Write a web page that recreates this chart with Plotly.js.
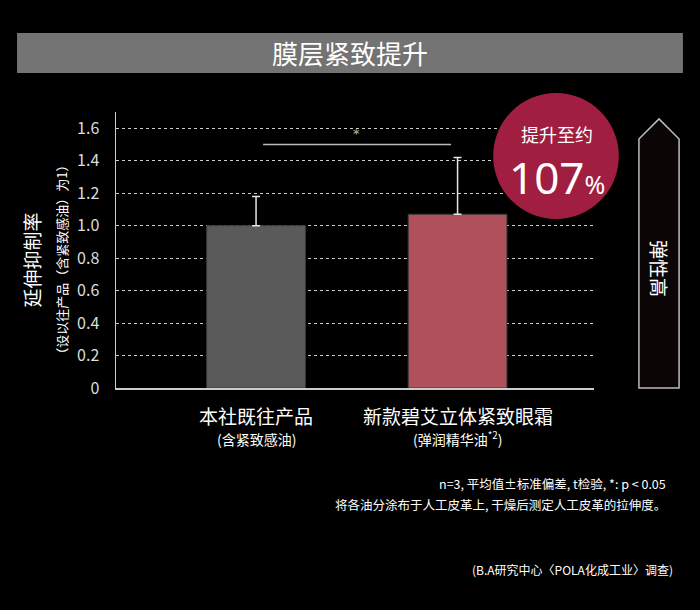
<!DOCTYPE html>
<html>
<head>
<meta charset="utf-8">
<script src="https://cdn.plot.ly/plotly-3.0.1.min.js"></script>
<style>
  html, body { margin: 0; padding: 0; background: #000; }
  #chart { width: 700px; height: 610px; }
</style>
</head>
<body>
<div id="chart"></div>
<script>
// data
let products = ["本社既往产品", "新款碧艾立体紧致眼霜"];
let product_notes = ["(含紧致感油)", "(弹润精华油<sup>*2</sup>)"];
let values = [1.00, 1.07];
let errors = [0.18, 0.35];
let bar_colors = ["#5a5a5a", "#b0505a"];
let tick_values = [0, 0.2, 0.4, 0.6, 0.8, 1.0, 1.2, 1.4, 1.6];
let tick_labels = ["0", "0.2", "0.4", "0.6", "0.8", "1.0", "1.2", "1.4", "1.6"];

let cjk = '"Noto Sans CJK SC", "Noto Sans", sans-serif';
let x_index = products.map(function (p, i) { return i; });

let bars = {
    type: 'bar',
    x: x_index,
    y: values,
    width: 0.49,
    marker: { color: bar_colors, line: { color: '#3a3a3a', width: 1 } },
    error_y: { type: 'data', array: errors, symmetric: false, arrayminus: [0, 0], color: '#e6e6e6', thickness: 1.5, width: 4 },
    hoverinfo: 'none',
    showlegend: false
};

function note(text, x, y, size, extra) {
    let a = { text: text, xref: 'paper', yref: 'paper', x: x, y: y, showarrow: false,
              xanchor: 'center', yanchor: 'middle',
              font: { family: cjk, size: size, color: '#ffffff' } };
    for (let k in extra) a[k] = extra[k];
    return a;
}

let annotations = [
    note('膜层紧致提升', 0.4895, 1.214, 26),
    note('延伸抑制率', -0.176, 0.465, 19, { textangle: -90 }),
    note('（设以往产品（含紧致感油）为1）', -0.113, 0.465, 13, { textangle: -90 }),
    note('*', 0.5, 1.57, 13, { xref: 'x', yref: 'y', font: { family: '"DejaVu Sans", sans-serif', size: 13, color: '#bbbbbb' } }),
    note('提升至约', 0.923, 0.922, 18),
    note('107<span style="font-size:25px">%</span>', 0.923, 0.764, 44,
         { font: { family: '"Noto Sans", sans-serif', size: 44, color: '#ffffff' } }),
    note('弹性高', 1.136, 0.435, 19, { textangle: 90 }),
    note('n=3, 平均值±标准偏差, t检验, *: p < 0.05', 1.155, -0.347, 12.5, { xanchor: 'right' }),
    note('将各油分涂布于人工皮革上, 干燥后测定人工皮革的拉伸度。', 1.155, -0.421, 12.5, { xanchor: 'right' }),
    note('(B.A研究中心〈POLA化成工业〉调查)', 1.169, -0.659, 12, { xanchor: 'right' })
];

products.forEach(function (name, i) {
    annotations.push(note(name, i, -0.101, 19, { xref: 'x' }));
    annotations.push(note(product_notes[i], i, -0.183, 14, { xref: 'x' }));
});

let shapes = [
    // title banner
    { type: 'rect', xref: 'paper', yref: 'paper', x0: -0.207, x1: 1.186, y0: 1.141, y1: 1.286,
      fillcolor: '#737373', line: { width: 0 }, layer: 'below' },
    // significance line
    { type: 'line', xref: 'x', yref: 'y', x0: 0.035, x1: 0.968, y0: 1.5, y1: 1.5,
      line: { color: '#bbbbbb', width: 1.5 } },
    // highlight circle
    { type: 'circle', xref: 'paper', yref: 'paper', x0: 0.789, x1: 1.052, y0: 0.612, y1: 1.069,
      fillcolor: '#a01e40', line: { width: 0 }, layer: 'above' },
    // arrow
    { type: 'path', xref: 'paper', yref: 'paper',
      path: 'M 1.094 0 L 1.094 0.902 L 1.136 0.975 L 1.178 0.902 L 1.178 0 Z',
      fillcolor: '#0b0506', line: { color: '#bbbbbb', width: 1.5 } }
];

let layout = {
    width: 700,
    height: 610,
    margin: { l: 116, r: 106, t: 112, b: 222 },
    paper_bgcolor: '#000000',
    plot_bgcolor: '#000000',
    xaxis: {
        range: [-0.695, 1.677],
        showticklabels: false,
        showgrid: false,
        zeroline: false,
        showline: true,
        linecolor: '#cccccc',
        linewidth: 1.5,
        fixedrange: true
    },
    yaxis: {
        range: [0, 1.7],
        tickvals: tick_values,
        ticktext: tick_labels,
        tickfont: { family: cjk, size: 16, color: '#dddddd' },
        ticks: 'outside',
        ticklen: 12,
        tickcolor: 'rgba(0,0,0,0)',
        showgrid: true,
        gridcolor: '#cccccc',
        griddash: '3px,3px',
        gridwidth: 1,
        zeroline: false,
        showline: true,
        linecolor: '#cccccc',
        linewidth: 1.5,
        fixedrange: true
    },
    annotations: annotations,
    shapes: shapes
};

Plotly.newPlot('chart', [bars], layout, { displayModeBar: false, staticPlot: true });
</script>
</body>
</html>
